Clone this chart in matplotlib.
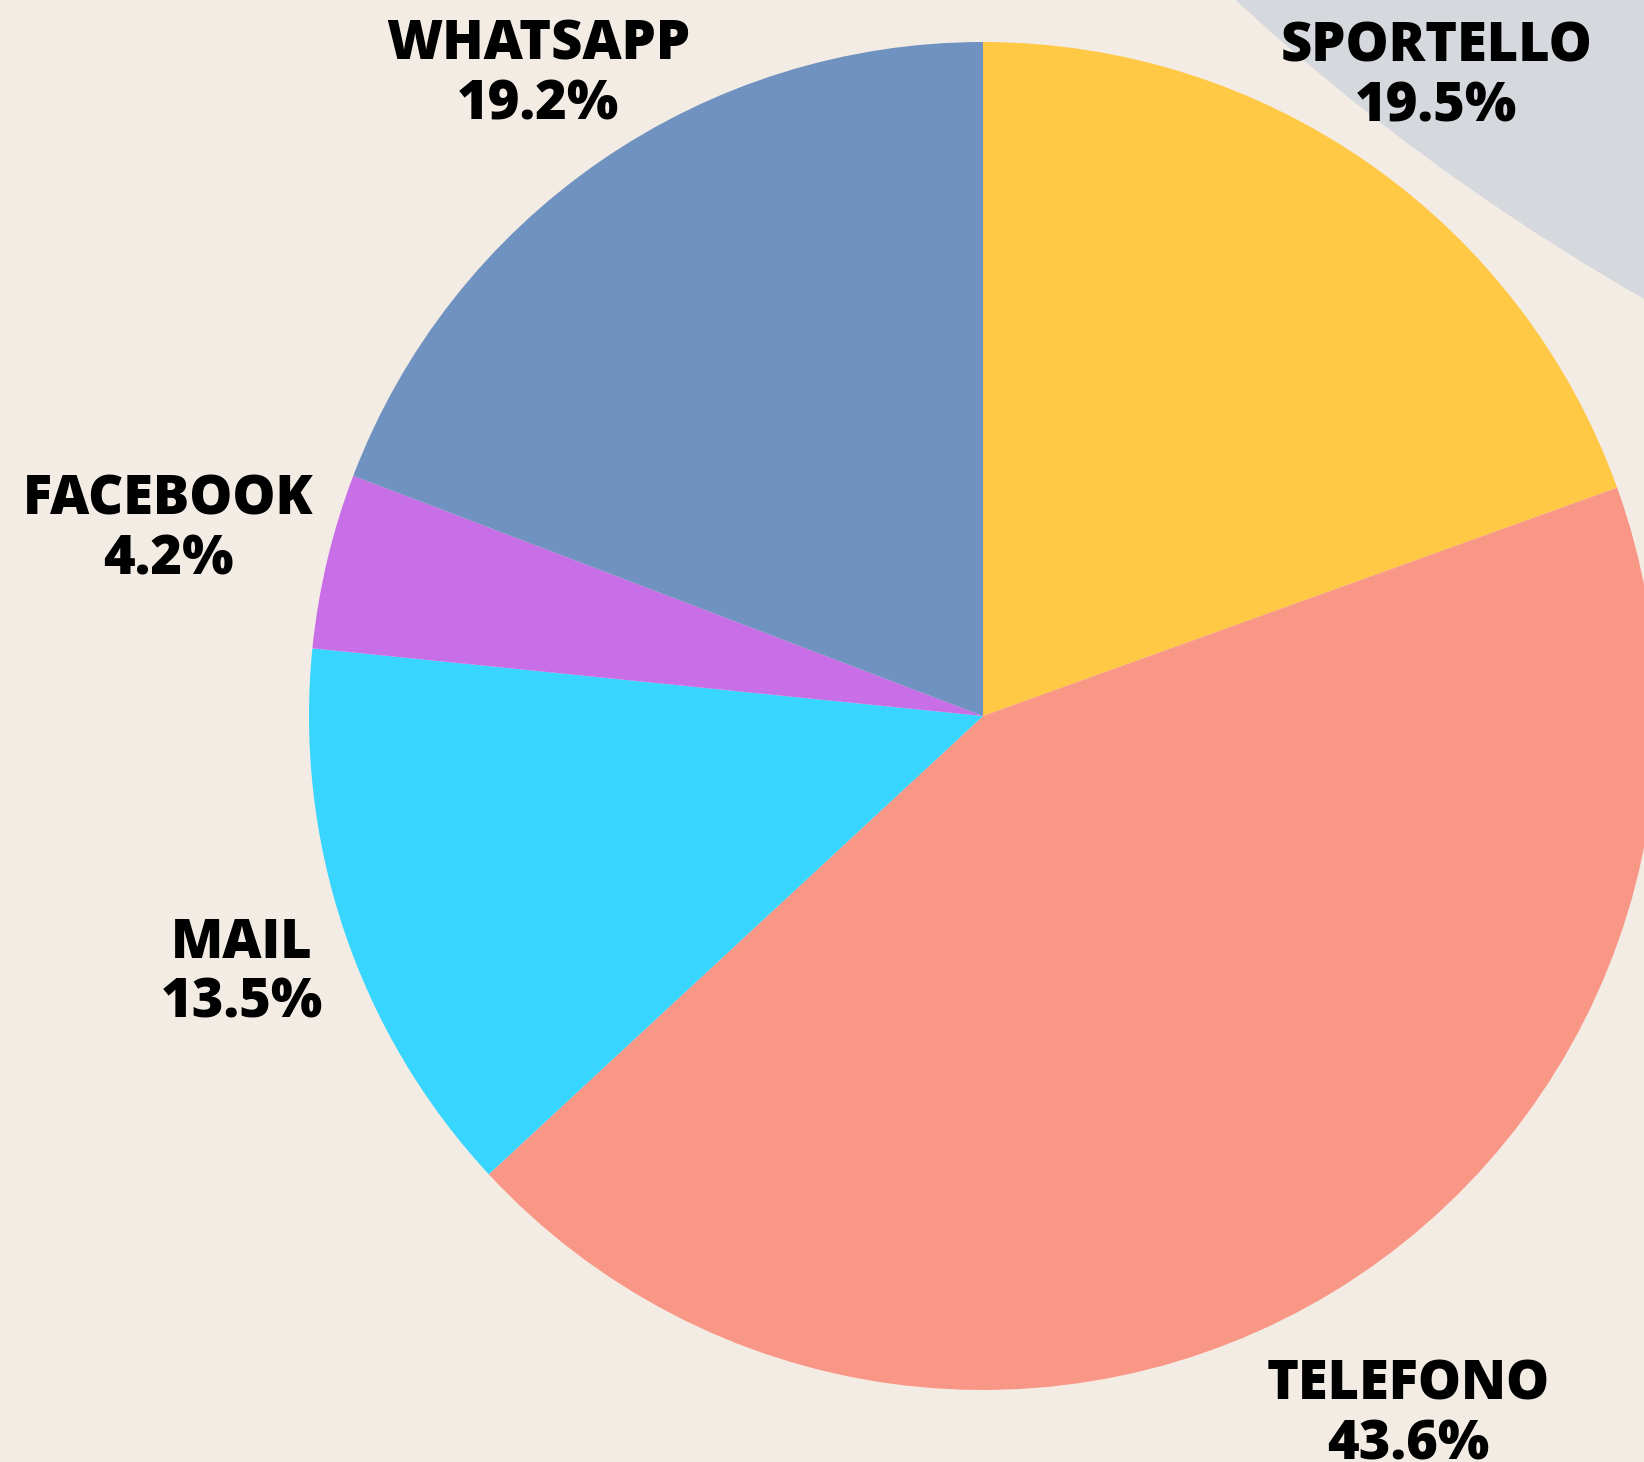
import matplotlib
matplotlib.use("Agg")
import matplotlib.pyplot as plt
from matplotlib.patches import Circle

# --- data ---------------------------------------------------------------
channels = ["SPORTELLO", "TELEFONO", "MAIL", "FACEBOOK", "WHATSAPP"]
shares = [19.5, 43.6, 13.5, 4.2, 19.2]
colors = ["#FFC845", "#F99786", "#38D5FE", "#C86EE6", "#7092C0"]

# label anchor (pixel coords from top-left), one per channel
label_pos = [(1436, 77), (1408, 1415), (242, 973), (168, 530), (538, 75)]

W, H = 1644, 1462
BG = "#F3ECE5"

fig = plt.figure(figsize=(W / 100, H / 100), dpi=100, facecolor=BG)
ax = fig.add_axes([0, 0, 1, 1])

# decorative grey disc top-right
ax.add_patch(Circle((2765, H + 1662), 2258, color="#D5D9DE", zorder=0))

ax.pie(shares, colors=colors, startangle=90, counterclock=False,
       center=(983, H - 716), radius=674, frame=True,
       wedgeprops=dict(linewidth=0))
ax.set_xlim(0, W)
ax.set_ylim(0, H)
ax.set_aspect("equal")
ax.axis("off")

for name, val, (x, y) in zip(channels, shares, label_pos):
    ax.text(x, H - y + 30, name, ha="center", va="center", fontsize=39,
            family="Open Sans", weight=800, color="black")
    ax.text(x, H - y - 30, f"{val}%", ha="center", va="center", fontsize=39,
            family="Open Sans", weight=800, color="black")

fig.savefig("out.png", dpi=100, facecolor=BG)
